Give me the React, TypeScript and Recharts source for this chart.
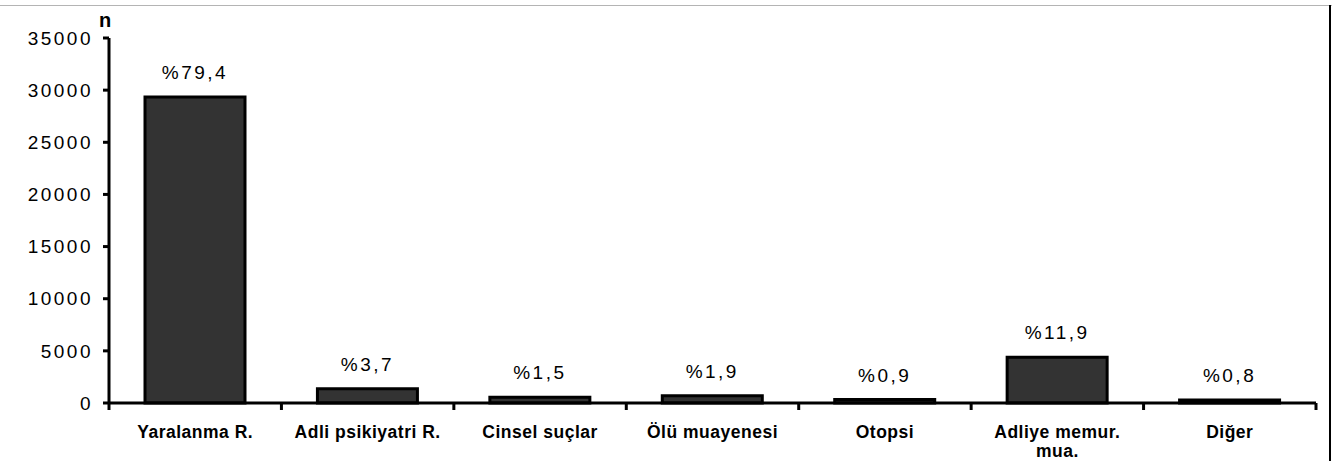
import { Bar, BarChart, LabelList, XAxis, YAxis } from "recharts";

const categories = [
  "Yaralanma R.",
  "Adli psikiyatri R.",
  "Cinsel suçlar",
  "Ölü muayenesi",
  "Otopsi",
  "Adliye memur. mua.",
  "Diğer"
];
const counts = [29340, 1367, 554, 702, 333, 4397, 296];
const shares = ["%79,4", "%3,7", "%1,5", "%1,9", "%0,9", "%11,9", "%0,8"];
const yTicks = [0, 5000, 10000, 15000, 20000, 25000, 30000, 35000];

const data = categories.map((name, i) => ({
  name,
  count: counts[i],
  share: shares[i]
}));

const font = "'Liberation Sans', Arial, Helvetica, sans-serif";
const catFont = `bold 17.5px ${font}`;

let ctx: CanvasRenderingContext2D | null = null;
function measure(text: string) {
  if (!ctx) ctx = document.createElement("canvas").getContext("2d");
  if (!ctx) return text.length * 9;
  ctx.font = catFont;
  return ctx.measureText(text).width;
}

// wrap like the spreadsheet did: break when the label gets wider than the cell
function wrap(text: string, maxWidth: number) {
  const lines: string[] = [];
  let cur = "";
  for (const w of text.split(" ")) {
    const next = cur ? cur + " " + w : w;
    if (cur && measure(next) > maxWidth) {
      lines.push(cur);
      cur = w;
    } else {
      cur = next;
    }
  }
  if (cur) lines.push(cur);
  return lines;
}

function CategoryTick(props: any) {
  const { x, y, payload, index, visibleTicksCount } = props;
  const half = payload.offset ?? 0;
  const axisY = y - 8;
  const lines = wrap(payload.value, 150);
  const isLast = index === (visibleTicksCount ?? categories.length) - 1;
  return (
    <g>
      {/* tick marks sit on the category borders, not at the centres */}
      <line x1={x - half} x2={x - half} y1={axisY} y2={axisY + 7} stroke="#000" strokeWidth={3} />
      {isLast && (
        <line x1={x + half} x2={x + half} y1={axisY} y2={axisY + 7} stroke="#000" strokeWidth={3} />
      )}
      <text
        x={x}
        y={y + 27}
        textAnchor="middle"
        fill="#000"
        style={{ fontSize: 17.5, fontWeight: "bold", letterSpacing: 0.5, fontFamily: font }}
      >
        {lines.map((line, i) => (
          <tspan key={i} x={x} dy={i === 0 ? 0 : 19}>
            {line}
          </tspan>
        ))}
      </text>
    </g>
  );
}

export default function App() {
  return (
    <div style={{ position: "relative", width: 1332, height: 461, fontFamily: font, background: "#fff" }}>
      <style>{"body{margin:0}"}</style>
      <div style={{ position: "absolute", left: 0, top: 5, width: 1332, height: 1, background: "#b4b4b4" }} />
      <div style={{ position: "absolute", left: 1329, top: 5, width: 2, height: 456, background: "#000" }} />
      <BarChart
        width={1332}
        height={461}
        data={data}
        margin={{ top: 38, right: 16, bottom: 0, left: 0 }}
        barSize={100}
      >
        <XAxis
          dataKey="name"
          height={58}
          axisLine={{ stroke: "#000", strokeWidth: 3 }}
          tickLine={false}
          tick={<CategoryTick />}
          interval={0}
        />
        <YAxis
          width={109}
          domain={[0, 35000]}
          ticks={yTicks}
          interval={0}
          axisLine={{ stroke: "#000", strokeWidth: 3 }}
          tickLine={{ stroke: "#000", strokeWidth: 3 }}
          tickSize={6}
          tickMargin={10}
          tick={{ fill: "#000", fontSize: 19, letterSpacing: 2.5, fontFamily: font }}
          label={(p: any) => (
            <text
              x={p.viewBox.x + p.viewBox.width - 4}
              y={p.viewBox.y - 11}
              textAnchor="middle"
              fontSize={20}
              fontWeight="bold"
              fill="#000"
              fontFamily={font}
            >
              n
            </text>
          )}
        />
        <Bar
          dataKey="count"
          fill="#333333"
          stroke="#000"
          strokeWidth={3}
          isAnimationActive={false}
        >
          <LabelList
            dataKey="share"
            position="top"
            offset={18}
            fill="#000"
            style={{ fontSize: 19, letterSpacing: 2.5, fontFamily: font }}
          />
        </Bar>
      </BarChart>
    </div>
  );
}
